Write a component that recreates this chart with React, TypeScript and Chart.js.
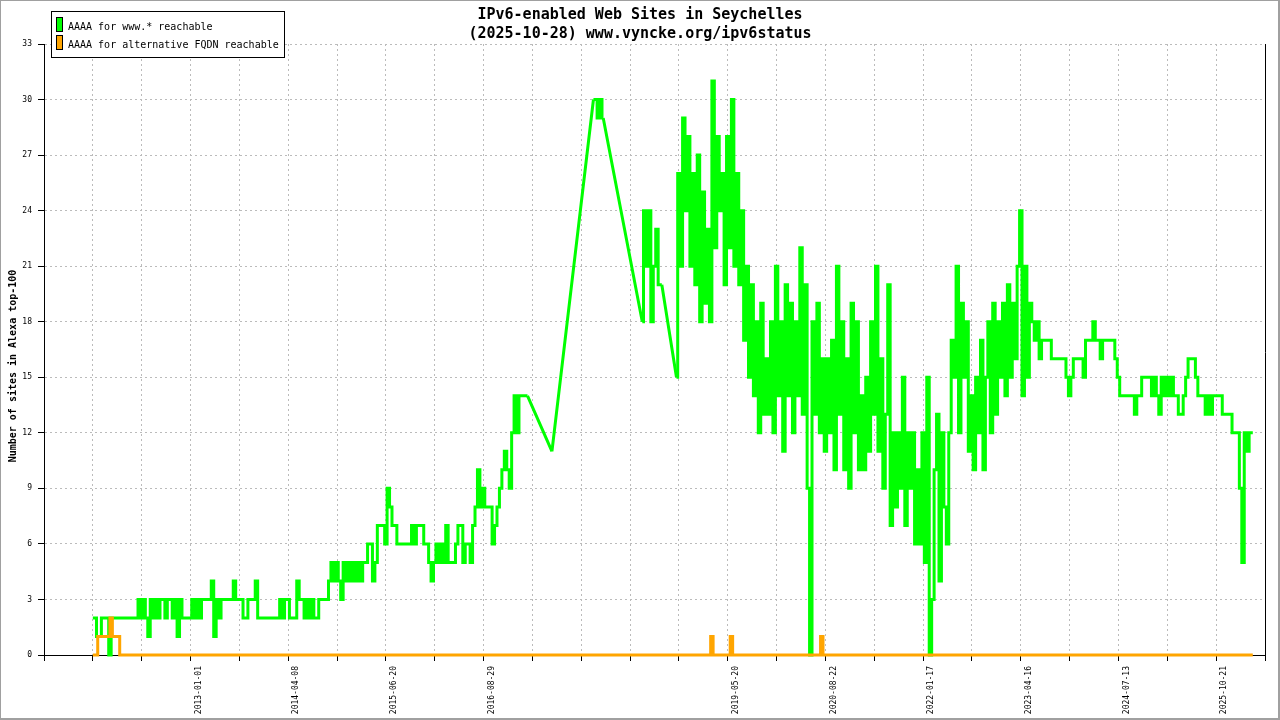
import React, { useEffect, useRef } from 'react';
import { Chart, registerables } from 'chart.js';

Chart.register(...registerables);

const titleLines = ['IPv6-enabled Web Sites in Seychelles', '(2025-10-28) www.vyncke.org/ipv6status'];
const yAxisTitle = 'Number of sites in Alexa top-100';
const seriesNames = ['AAAA for www.* reachable', 'AAAA for alternative FQDN reachable'];
const seriesColors = ['#00ff00', '#ffa500'];

// x positions are sample indices; labelled ticks
const tickIndex = [60, 100, 140, 180, 280, 320, 360, 400, 440, 480];
const tickDates = ['2013-01-01', '2014-04-08', '2015-06-20', '2016-08-29', '2019-05-20', '2020-08-22', '2022-01-17', '2023-04-16', '2024-07-13', '2025-10-21'];

const yTicks = [0, 3, 6, 9, 12, 15, 18, 21, 24, 27, 30, 33];

// AAAA for www.* reachable, one value per sample index starting at wwwStart (null = no sample)
const wwwStart = 20;
const wwwReachable: (number | null)[] = [
  2, 2, 1, 1, 2, 2, 2, 0, 2, 2,
  2, 2, 2, 2, 2, 2, 2, 2, 2, 3,
  2, 3, 2, 1, 3, 2, 3, 2, 3, 3,
  2, 3, 3, 2, 3, 1, 3, 2, 2, 2,
  2, 3, 2, 3, 2, 3, 3, 3, 3, 4,
  1, 3, 2, 3, 3, 3, 3, 3, 4, 3,
  3, 3, 2, 2, 3, 3, 3, 4, 2, 2,
  2, 2, 2, 2, 2, 2, 2, 3, 2, 3,
  3, 2, 2, 2, 4, 3, 3, 2, 3, 2,
  3, 2, 2, 3, 3, 3, 3, 4, 5, 4,
  5, 4, 3, 5, 4, 5, 4, 5, 4, 5,
  4, 5, 5, 6, 6, 4, 5, 7, 7, 7,
  6, 9, 8, 7, 7, 6, 6, 6, 6, 6,
  6, 7, 6, 7, 7, 7, 6, 6, 5, 4,
  5, 6, 5, 6, 5, 7, 5, 5, 5, 6,
  7, 7, 5, 6, 6, 5, 7, 8, 10, 8,
  9, 8, 8, 8, 6, 7, 8, 9, 10, 11,
  10, 9, 12, 14, 12, 14, 14, 14, 14, null,
  null, null, null, null, null, null, null, null, 11, null,
  null, null, null, null, null, null, null, null, null, null,
  null, null, null, null, null, 30, 30, 29, 30, 29,
  null, null, null, null, null, null, null, null, null, null,
  null, null, null, null, null, 18, 24, 21, 24, 18,
  21, 23, 20, 20, null, null, null, null, null, 15,
  26, 21, 29, 24, 28, 21, 26, 20, 27, 18,
  25, 19, 23, 18, 31, 22, 28, 24, 26, 20,
  28, 22, 30, 21, 26, 20, 24, 17, 21, 15,
  20, 14, 18, 12, 19, 13, 16, 13, 18, 12,
  21, 14, 18, 11, 20, 14, 19, 12, 18, 14,
  22, 13, 20, 9, 0, 18, 13, 19, 12, 16,
  11, 16, 12, 17, 10, 21, 13, 18, 10, 16,
  9, 19, 12, 18, 10, 14, 10, 15, 11, 18,
  13, 21, 11, 16, 9, 13, 20, 7, 12, 8,
  12, 9, 15, 7, 12, 9, 12, 6, 10, 6,
  12, 5, 15, 0, 3, 10, 13, 4, 12, 8,
  6, 12, 17, 15, 21, 12, 19, 15, 18, 11,
  14, 10, 15, 12, 17, 10, 15, 18, 12, 19,
  13, 18, 15, 19, 14, 20, 15, 19, 16, 21,
  24, 14, 21, 15, 19, 18, 17, 18, 16, 17,
  17, 17, 17, 16, 16, 16, 16, 16, 16, 15,
  14, 15, 16, 16, 16, 16, 15, 17, 17, 17,
  18, 17, 17, 16, 17, 17, 17, 17, 17, 16,
  15, 14, 14, 14, 14, 14, 14, 13, 14, 14,
  15, 15, 15, 15, 14, 15, 14, 13, 15, 14,
  15, 14, 15, 14, 14, 13, 13, 14, 15, 16,
  16, 16, 15, 14, 14, 14, 13, 14, 13, 14,
  14, 14, 14, 13, 13, 13, 13, 12, 12, 12,
  9, 5, 12, 11, 12, 12,
];

// AAAA for alternative FQDN reachable: sample index and value at each change point
const altIndex = [20, 22, 23, 27, 28, 29, 31, 32, 273, 274, 275, 281, 282, 283, 318, 319, 320, 495];
const altReachable = [0, 0, 1, 1, 2, 1, 1, 0, 0, 1, 0, 0, 1, 0, 0, 1, 0, 0];

const FONT = '"DejaVu Sans Mono", "Liberation Mono", monospace';

const decorPlugin = {
  id: 'decor',
  afterDraw(chart: any) {
    const { ctx, chartArea } = chart;
    ctx.save();
    ctx.strokeStyle = '#000';
    ctx.lineWidth = 1;
    ctx.beginPath();
    ctx.moveTo(Math.round(chartArea.right) + 0.5, chartArea.top);
    ctx.lineTo(Math.round(chartArea.right) + 0.5, chartArea.bottom + 6);
    ctx.stroke();

    ctx.fillStyle = '#000';
    ctx.font = `bold 15px ${FONT}`;
    ctx.textAlign = 'center';
    ctx.textBaseline = 'alphabetic';
    ctx.fillText(titleLines[0], 640, 19);
    ctx.fillText(titleLines[1], 640, 38);

    ctx.save();
    ctx.translate(16, 366);
    ctx.rotate(-Math.PI / 2);
    ctx.font = `bold 10px ${FONT}`;
    ctx.textAlign = 'center';
    ctx.fillText(yAxisTitle, 0, 0);
    ctx.restore();

    // legend
    ctx.fillStyle = '#fff';
    ctx.fillRect(51, 11, 233, 46);
    ctx.strokeStyle = '#000';
    ctx.strokeRect(51.5, 11.5, 233, 46);
    seriesNames.forEach((name, k) => {
      const y = 17 + k * 17.5;
      ctx.fillStyle = seriesColors[k];
      ctx.fillRect(56, Math.round(y), 7, 15);
      ctx.strokeStyle = '#000';
      ctx.strokeRect(56.5, Math.round(y) + 0.5, 6, 14);
      ctx.fillStyle = '#000';
      ctx.font = `10px ${FONT}`;
      ctx.textAlign = 'left';
      ctx.textBaseline = 'alphabetic';
      ctx.fillText(name, 68, y + 13);
    });

    ctx.fillStyle = '#a0a0a0';
    ctx.fillRect(0, 0, 1280, 1);
    ctx.fillRect(0, 0, 1, 720);
    ctx.fillRect(1278, 0, 2, 720);
    ctx.fillRect(0, 718, 1280, 2);
    ctx.restore();
  },
};

export default function App() {
  const ref = useRef<HTMLCanvasElement | null>(null);

  useEffect(() => {
    document.body.style.margin = '0';
    const canvas = ref.current;
    if (!canvas) return;

    // daily samples: broken at missing samples
    const wwwData = wwwReachable.map((v, k) => ({ x: wwwStart + k, y: v }));
    // straight connectors across the periods with no samples
    const gapData: { x: number; y: number | null }[] = [];
    let k = 0;
    while (k < wwwReachable.length) {
      if (wwwReachable[k] === null) {
        const a = k;
        while (k < wwwReachable.length && wwwReachable[k] === null) k++;
        if (a > 0 && k < wwwReachable.length) {
          gapData.push({ x: wwwStart + a - 1, y: wwwReachable[a - 1] });
          gapData.push({ x: wwwStart + k, y: wwwReachable[k] });
          gapData.push({ x: wwwStart + k, y: null });
        }
      } else k++;
    }
    const altData = altIndex.map((x, j) => ({ x, y: altReachable[j] }));

    const gridColor = (ctx: any) => (ctx.tick && ctx.tick.value === 0 ? 'rgba(0,0,0,0)' : '#bbbbbb');

    const common = {
      borderWidth: 3,
      pointRadius: 0,
      borderJoinStyle: 'miter' as const,
      fill: false,
      clip: false as any,
      spanGaps: false,
    };

    const chart = new Chart(canvas, {
      type: 'line',
      data: {
        datasets: [
          {
            ...common,
            label: seriesNames[0],
            data: wwwData as any,
            borderColor: seriesColors[0],
            backgroundColor: seriesColors[0],
            stepped: 'middle',
            order: 2,
          },
          {
            ...common,
            label: seriesNames[0] + ' (no samples)',
            data: gapData as any,
            borderColor: seriesColors[0],
            backgroundColor: seriesColors[0],
            borderJoinStyle: 'bevel',
            order: 1,
          },
          {
            ...common,
            label: seriesNames[1],
            data: altData as any,
            borderColor: seriesColors[1],
            backgroundColor: seriesColors[1],
            stepped: 'after',
            order: 0,
          },
        ],
      },
      options: {
        responsive: false,
        animation: false,
        devicePixelRatio: 1,
        parsing: false as any,
        layout: { padding: { top: 44, right: 15, left: 0, bottom: 0 } },
        plugins: {
          legend: { display: false },
          title: { display: false },
          tooltip: { enabled: false },
        },
        events: [],
        scales: {
          x: {
            type: 'linear',
            min: 0,
            max: 500,
            afterFit: (s: any) => {
              s.height = 65;
            },
            ticks: {
              stepSize: 20,
              autoSkip: false,
              maxRotation: 90,
              minRotation: 90,
              padding: 5,
              labelOffset: 8,
              color: '#000',
              font: { family: FONT, size: 8 },
              callback: (v: any) => {
                const j = tickIndex.indexOf(Number(v));
                return j >= 0 ? tickDates[j] : '';
              },
            },
            grid: { color: gridColor, tickColor: '#000', tickLength: 6, lineWidth: 1 },
            border: { display: true, color: '#000', width: 1, dash: [2, 3] },
          },
          y: {
            type: 'linear',
            min: 0,
            max: 33,
            afterFit: (s: any) => {
              s.width = 44;
            },
            afterBuildTicks: (s: any) => {
              s.ticks = yTicks.map((v) => ({ value: v }));
            },
            ticks: {
              stepSize: 3,
              padding: 6,
              color: '#000',
              font: { family: FONT, size: 8 },
            },
            grid: { color: gridColor, tickColor: '#000', tickLength: 6, lineWidth: 1 },
            border: { display: true, color: '#000', width: 1, dash: [2, 3] },
          },
        },
      },
      plugins: [decorPlugin],
    });

    return () => {
      chart.destroy();
    };
  }, []);

  return <canvas ref={ref} width={1280} height={720} style={{ display: 'block' }} />;
}
